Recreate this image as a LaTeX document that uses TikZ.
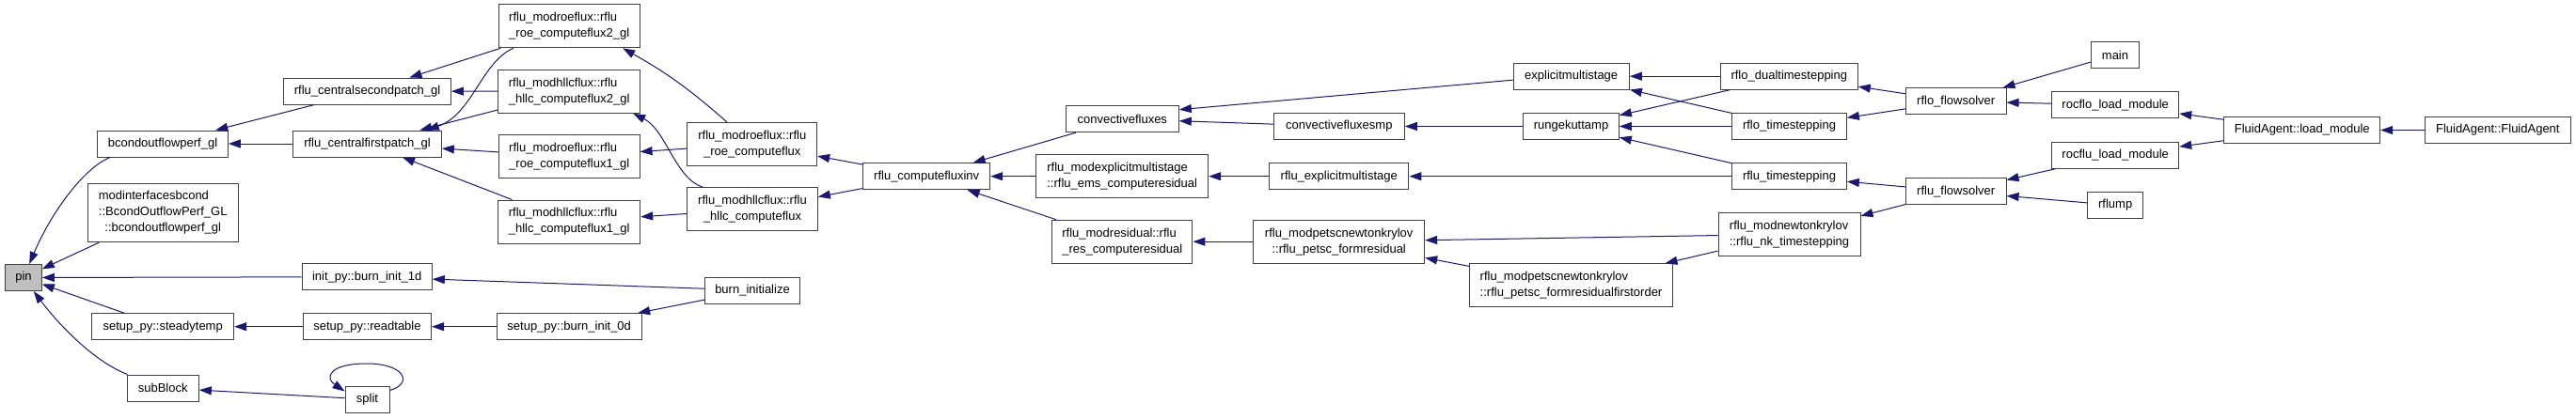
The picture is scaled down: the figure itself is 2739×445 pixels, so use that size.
\documentclass[tikz,border=0pt]{standalone}
\usepackage{fontspec}
\setmainfont{Liberation Sans}
\usepackage{xcolor}
\usetikzlibrary{arrows.meta}
\definecolor{edgeblue}{HTML}{191970}
\newcommand{\twol}[2]{\begin{tabular}{@{}l@{}}#1\\\multicolumn{1}{@{}c@{}}{#2}\end{tabular}}
\newcommand{\threel}[3]{\begin{tabular}{@{}l@{}}#1\\#2\\\multicolumn{1}{@{}c@{}}{#3}\end{tabular}}

\begin{document}
\begin{tikzpicture}[
    x=1pt,y=-1pt,
    font=\fontsize{13}{17}\selectfont,
    fn/.style={draw=black!75,line width=1pt,fill=white,inner sep=0pt,
               minimum height=28pt},
    fn2/.style={fn,minimum height=46pt},
    arr/.style={-{Triangle[length=13pt,width=9pt]},draw=edgeblue,line width=1pt}
  ]
    \useasboundingbox (0,0) rectangle (2739,445);
    \node[fn,fill=black!25,minimum width=38.7pt] (pin) at (25,295.5) {pin};
    \node[fn,minimum width=138.7pt] (bcond) at (173,153) {bcondoutflowperf\_gl};
    \node[fn,minimum width=160.3pt,minimum height=62.3pt] (modif) at (173.2,226.5)
      {\threel{modinterfacesbcond}{::BcondOutflowPerf\_GL}{::bcondoutflowperf\_gl}};
    \node[fn,minimum width=138.3pt] (binit1d) at (390.2,294.7) {init\_py::burn\_init\_1d};
    \node[fn,minimum width=151pt] (steady) at (173.2,347.7) {setup\_py::steadytemp};
    \node[fn,minimum width=136.3pt] (readtab) at (390.5,347.7) {setup\_py::readtable};
    \node[fn,minimum width=76.3pt] (subblock) at (173.2,413) {subBlock};
    \node[fn,minimum width=47pt] (split) at (390.5,425) {split};
    \node[fn,minimum width=177.7pt] (csp) at (390.5,97) {rflu\_centralsecondpatch\_gl};
    \node[fn,minimum width=157.7pt] (cfp) at (390.5,153) {rflu\_centralfirstpatch\_gl};
    \node[fn2,minimum width=149.7pt] (roe2) at (605.2,27.8)
      {\twol{rflu\_modroeflux::rflu}{\_roe\_computeflux2\_gl}};
    \node[fn2,minimum width=151pt] (hllc2) at (605.2,97.3)
      {\twol{rflu\_modhllcflux::rflu}{\_hllc\_computeflux2\_gl}};
    \node[fn2,minimum width=149.7pt] (roe1) at (605.2,166.7)
      {\twol{rflu\_modroeflux::rflu}{\_roe\_computeflux1\_gl}};
    \node[fn2,minimum width=151pt] (hllc1) at (605.2,236)
      {\twol{rflu\_modhllcflux::rflu}{\_hllc\_computeflux1\_gl}};
    \node[fn,minimum width=153.7pt] (binit0d) at (605.2,347.7) {setup\_py::burn\_init\_0d};
    \node[fn2,minimum width=137.7pt] (roeflux) at (799.8,153.3)
      {\twol{rflu\_modroeflux::rflu}{\_roe\_computeflux}};
    \node[fn2,minimum width=138.7pt] (hllcflux) at (800,222.7)
      {\twol{rflu\_modhllcflux::rflu}{\_hllc\_computeflux}};
    \node[fn,minimum width=101.3pt] (burninit) at (800,309) {burn\_initialize};
    \node[fn,minimum width=135pt] (fluxinv) at (985.2,187.7) {rflu\_computefluxinv};
    \node[fn,minimum width=120pt] (convflux) at (1193.3,126.7) {convectivefluxes};
    \node[fn2,minimum width=183pt] (emsres) at (1193.2,187.7)
      {\twol{rflu\_modexplicitmultistage}{::rflu\_ems\_computeresidual}};
    \node[fn2,minimum width=149.3pt] (resres) at (1193.3,257.2)
      {\twol{rflu\_modresidual::rflu}{\_res\_computeresidual}};
    \node[fn,minimum width=139pt] (convfluxmp) at (1423.8,134.5) {convectivefluxesmp};
    \node[fn,minimum width=148.3pt] (fluexpl) at (1423.8,187.7) {rflu\_explicitmultistage};
    \node[fn2,minimum width=182pt] (petscres) at (1423.7,257.2)
      {\twol{rflu\_modpetscnewtonkrylov}{::rflu\_petsc\_formresidual}};
    \node[fn,minimum width=123.3pt] (explms) at (1670.7,81.2) {explicitmultistage};
    \node[fn,minimum width=101.7pt] (rkmp) at (1670.5,134.5) {rungekuttamp};
    \node[fn2,minimum width=216.3pt] (petscfo) at (1670.5,303.8)
      {\twol{rflu\_modpetscnewtonkrylov}{::rflu\_petsc\_formresidualfirstorder}};
    \node[fn,minimum width=146pt] (flodual) at (1902.3,81.2) {rflo\_dualtimestepping};
    \node[fn,minimum width=121.7pt] (flots) at (1902.5,134.5) {rflo\_timestepping};
    \node[fn,minimum width=121.7pt] (fluts) at (1902.5,187.7) {rflu\_timestepping};
    \node[fn2,minimum width=151pt] (nkts) at (1902.5,249.3)
      {\twol{rflu\_modnewtonkrylov}{::rflu\_nk\_timestepping}};
    \node[fn,minimum width=106.7pt] (flosolv) at (2079.7,107.8) {rflo\_flowsolver};
    \node[fn,minimum width=106.7pt] (flusolv) at (2079.7,203.8) {rflu\_flowsolver};
    \node[fn,minimum width=51.3pt] (main) at (2249,58.5) {main};
    \node[fn,minimum width=135pt] (rocflo) at (2249.2,111.8) {rocflo\_load\_module};
    \node[fn,minimum width=135pt] (rocflu) at (2249.2,165.2) {rocflu\_load\_module};
    \node[fn,minimum width=59pt] (rflump) at (2249.2,218.5) {rflump};
    \node[fn,minimum width=165.7pt] (faload) at (2447.8,138.5) {FluidAgent::load\_module};
    \node[fn,minimum width=155pt] (faagent) at (2655.8,138.5) {FluidAgent::FluidAgent};
    \draw[arr] ([xshift=14pt]bcond.south west) .. controls (90,178) and (55,225) .. (pin);
    \draw[arr] (modif) -- (pin);
    \draw[arr] (binit1d) -- (pin);
    \draw[arr] (steady) -- (pin);
    \draw[arr] ([xshift=1pt]subblock.north west) .. controls (100,385) and (62,345) .. (pin);
    \draw[arr] (csp) -- (bcond);
    \draw[arr] (cfp) -- (bcond);
    \draw[arr] (readtab) -- (steady);
    \draw[arr] (split) -- (subblock);
    \draw[arr] ([yshift=-5pt]split.north east) .. controls (440,408) and (430,387) .. (390,387)
      .. controls (350,387) and (345,402) .. ([yshift=-6pt]split.north west);
    \draw[arr] (roe2) -- (csp);
    \draw[arr] (hllc2) -- (csp);
    \draw[arr] ([xshift=16pt]roe2.south west) .. controls (512,66) and (502,122)
      .. ([xshift=-16pt]cfp.north east);
    \draw[arr] (hllc2) -- (cfp);
    \draw[arr] (roe1) -- (cfp);
    \draw[arr] (hllc1) -- (cfp);
    \draw[arr] (burninit) -- (binit1d);
    \draw[arr] (binit0d) -- (readtab);
    \draw[arr] (burninit) -- (binit0d);
    \draw[arr] ([xshift=-27pt]roeflux.north) to[bend right=6] ([xshift=57pt]roe2.south);
    \draw[arr] (roeflux) -- (roe1);
    \draw[arr] ([xshift=17pt]hllcflux.north west) .. controls (718,190) and (708,138)
      .. ([xshift=-8pt]hllc2.south east);
    \draw[arr] (hllcflux) -- (hllc1);
    \draw[arr] (fluxinv) -- (roeflux);
    \draw[arr] (fluxinv) -- (hllcflux);
    \draw[arr] (convflux) -- (fluxinv);
    \draw[arr] (emsres) -- (fluxinv);
    \draw[arr] (resres) -- (fluxinv);
    \draw[arr] ([yshift=-4pt]explms.west) -- ([yshift=10pt]convflux.east);
    \draw[arr] (convfluxmp) -- (convflux);
    \draw[arr] (fluexpl) -- (emsres);
    \draw[arr] (petscres) -- (resres);
    \draw[arr] (rkmp) -- (convfluxmp);
    \draw[arr] (flodual) -- (explms);
    \draw[arr] (flots) -- (explms);
    \draw[arr] (flodual) -- (rkmp);
    \draw[arr] (flots) -- (rkmp);
    \draw[arr] (fluts) -- (rkmp);
    \draw[arr] (fluts) -- (fluexpl);
    \draw[arr] (nkts) -- (petscres);
    \draw[arr] (nkts) -- (petscfo);
    \draw[arr] (petscfo) -- (petscres);
    \draw[arr] (flosolv) -- (flodual);
    \draw[arr] (flosolv) -- (flots);
    \draw[arr] (flusolv) -- (fluts);
    \draw[arr] (flusolv) -- (nkts);
    \draw[arr] (main) -- (flosolv);
    \draw[arr] (rocflo) -- (flosolv);
    \draw[arr] (rocflu) -- (flusolv);
    \draw[arr] (rflump) -- (flusolv);
    \draw[arr] (faload) -- (rocflo);
    \draw[arr] (faload) -- (rocflu);
    \draw[arr] (faagent) -- (faload);
  \end{tikzpicture}
\end{document}
